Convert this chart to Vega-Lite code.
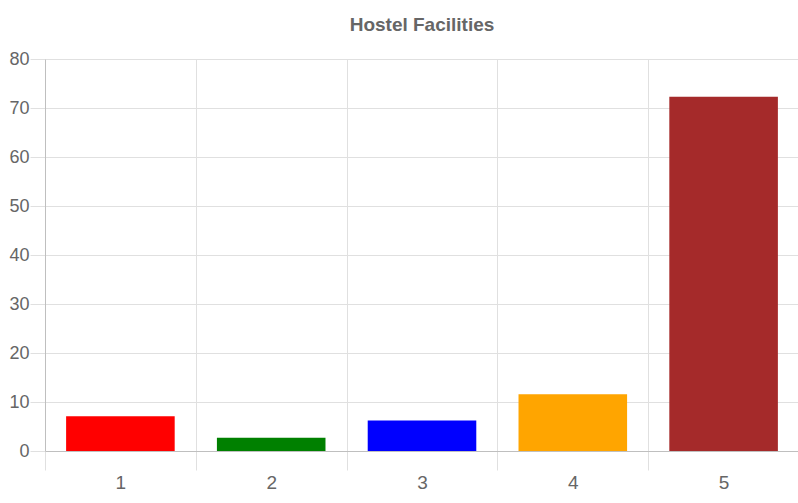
{
  "$schema": "https://vega.github.io/schema/vega-lite/v6.json",
  "width": 754,
  "height": 392,
  "autosize": {"type": "none"},
  "padding": {"left": 45, "top": 59, "right": 0, "bottom": 52},
  "background": "white",
  "title": {
    "text": "Hostel Facilities",
    "font": "Liberation Sans, Arial, sans-serif",
    "fontSize": 19,
    "fontWeight": "bold",
    "color": "#666666",
    "offset": 15,
    "anchor": "middle"
  },
  "config": {
    "view": {"stroke": null},
    "axis": {
      "labelFont": "Liberation Sans, Arial, sans-serif",
      "labelColor": "#666666",
      "gridColor": "#e0e0e0",
      "tickColor": "#e0e0e0",
      "domainColor": "#bfbfbf",
      "gridOpacity": 1
    }
  },
  "data": {
    "values": [
      {"facility": "1", "value": 7.1, "group": "a"},
      {"facility": "2", "value": 2.7, "group": "b"},
      {"facility": "3", "value": 6.2, "group": "c"},
      {"facility": "4", "value": 11.6, "group": "d"},
      {"facility": "5", "value": 72.3, "group": "e"}
    ]
  },
  "mark": {"type": "bar", "width": {"band": 0.72}},
  "encoding": {
    "x": {
      "field": "facility",
      "type": "nominal",
      "sort": null,
      "scale": {"paddingInner": 0, "paddingOuter": 0},
      "axis": {
        "title": null,
        "labelAngle": 0,
        "tickBand": "extent",
        "grid": true,
        "tickSize": 19,
        "labelFontSize": 19,
        "labelPadding": 3,
        "domain": true
      }
    },
    "y": {
      "field": "value",
      "type": "quantitative",
      "scale": {"domain": [0, 80], "nice": false},
      "axis": {
        "title": null,
        "values": [0, 10, 20, 30, 40, 50, 60, 70, 80],
        "grid": true,
        "tickSize": 15,
        "labelFontSize": 18,
        "labelPadding": 1,
        "domain": true
      }
    },
    "color": {
      "field": "group",
      "type": "nominal",
      "scale": {"domain": ["a", "b", "c", "d", "e"], "range": ["#ff0000", "#008000", "#0000ff", "#ffa500", "#a52a2a"]},
      "legend": null
    }
  }
}
